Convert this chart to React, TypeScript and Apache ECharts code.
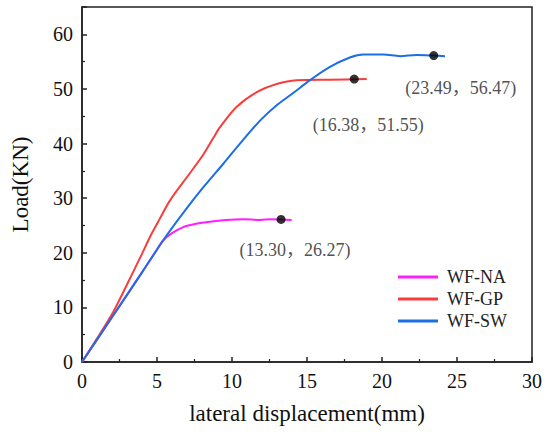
import React, { useEffect, useRef } from "react";
import * as echarts from "echarts";

const FONT = "'Times New Roman', 'Liberation Serif', 'Noto Sans CJK SC', serif";

const seriesNames = ["WF-NA", "WF-GP", "WF-SW"];
const seriesColors = ["#ff1eff", "#f93c3c", "#1c6ee6"];

const naData: [number, number][] = [
  [0, 0], [2, 8.2], [4, 16.4], [5.0, 20.6], [5.42, 22.3], [6.0, 23.6], [6.75, 24.7],
  [7.6, 25.3], [8.53, 25.7], [9.6, 26.0], [10.75, 26.15], [11.9, 26.0], [12.6, 26.15],
  [13.27, 26.1], [13.98, 26.0],
];

const gpData: [number, number][] = [
  [0, 0], [1, 4.3], [2.09, 9.2], [3, 14.2], [4, 19.8], [4.53, 22.9], [5.2, 26.3],
  [5.87, 29.6], [7.2, 34.6], [8.09, 38.0], [8.75, 41.0], [9.2, 43.0], [10.3, 46.7],
  [11.65, 49.4], [12.98, 50.9], [14.3, 51.6], [16.5, 51.7], [18.98, 51.8],
];

const swData: [number, number][] = [
  [0, 0], [2, 8.2], [4, 16.4], [5.42, 22.3], [6.75, 27.3], [8.09, 32.0], [9.42, 36.3],
  [10.53, 40.0], [11.87, 44.2], [12.98, 47.0], [14.1, 49.3], [15.2, 51.6], [16.5, 54.0],
  [17.9, 55.8], [18.75, 56.3], [20.1, 56.3], [21.2, 56.0], [22.3, 56.2], [23.45, 56.1],
  [24.2, 56.0],
];

const peakPoints: [number, number][] = [
  [13.27, 26.1], [18.15, 51.8], [23.45, 56.1],
];
const peakLabels = ["(13.30，26.27)", "(16.38，51.55)", "(23.49，56.47)"];
const labelOffsets: [number, number][] = [[14, 31], [14, 46], [27, 32]];

export default function App() {
  const ref = useRef<HTMLDivElement>(null);
  useEffect(() => {
    if (!ref.current) return;
    const chart = echarts.init(ref.current, undefined, { renderer: "svg" });
    const lineData = [naData, gpData, swData];
    chart.setOption({
      animation: false,
      backgroundColor: "#ffffff",
      grid: {
        left: 82, right: 18, top: 7, bottom: 74,
        show: true, borderColor: "#222", borderWidth: 1.5,
      },
      legend: {
        data: seriesNames.map((n) => ({ name: n, icon: "rect" })),
        orient: "vertical",
        left: 393,
        top: 263,
        itemWidth: 40,
        itemHeight: 3,
        itemGap: 4,
        textStyle: { fontFamily: FONT, fontSize: 18, color: "#222", padding: [0, 0, 0, 4] },
      },
      xAxis: {
        type: "value",
        min: 0, max: 30, interval: 5,
        name: "lateral displacement(mm)",
        nameLocation: "middle",
        nameGap: 40,
        nameTextStyle: { fontFamily: FONT, fontSize: 23, color: "#111" },
        axisLine: { lineStyle: { color: "#222", width: 1.5 } },
        axisTick: { inside: true, length: 5, lineStyle: { color: "#222", width: 1.5 } },
        minorTick: { show: true, splitNumber: 2, length: 3, lineStyle: { color: "#222", width: 1.2 } },
        axisLabel: { fontFamily: FONT, fontSize: 20, color: "#111", margin: 9 },
        splitLine: { show: false },
      },
      yAxis: {
        type: "value",
        min: 0, max: 65, interval: 10,
        name: "Load(KN)",
        nameLocation: "middle",
        nameGap: 50,
        nameTextStyle: { fontFamily: FONT, fontSize: 23, color: "#111" },
        axisLine: { show: true, lineStyle: { color: "#222", width: 1.5 } },
        axisTick: { show: true, inside: true, length: 5, lineStyle: { color: "#222", width: 1.5 } },
        minorTick: { show: true, splitNumber: 2, length: 3, lineStyle: { color: "#222", width: 1.2 } },
        axisLabel: { fontFamily: FONT, fontSize: 20, color: "#111", margin: 9, showMaxLabel: false },
        splitLine: { show: false },
      },
      series: [
        ...seriesNames.map((name, i) => ({
          name,
          type: "line",
          data: lineData[i],
          smooth: 0.3,
          showSymbol: false,
          symbol: "none",
          lineStyle: { color: seriesColors[i], width: 2 },
          itemStyle: { color: seriesColors[i] },
          z: 2 + i,
        })),
        {
          name: "peaks",
          type: "scatter",
          symbolSize: 9,
          itemStyle: { color: "#000" },
          z: 10,
          data: peakPoints.map((p, i) => ({
            value: p,
            label: {
              show: true,
              position: "inside",
              offset: labelOffsets[i],
              formatter: peakLabels[i],
              fontFamily: FONT,
              fontSize: 18,
              color: "#222",
            },
          })),
        },
      ],
    });
    return () => chart.dispose();
  }, []);
  return (
    <div
      ref={ref}
      style={{ position: "absolute", left: 0, top: 0, width: 550, height: 436 }}
    />
  );
}
